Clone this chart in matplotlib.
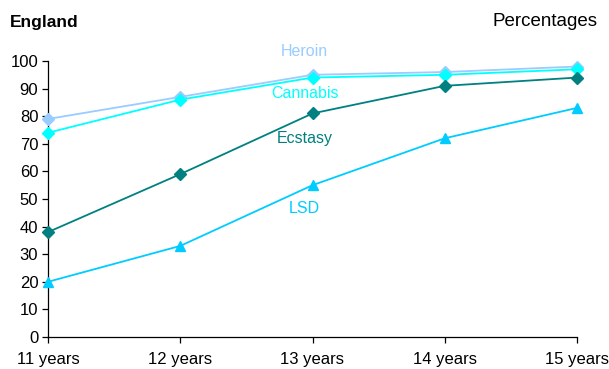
import matplotlib
matplotlib.use("Agg")
import matplotlib.pyplot as plt

plt.rcParams['font.family'] = ['Liberation Sans', 'DejaVu Sans']

ages = ["11 years", "12 years", "13 years", "14 years", "15 years"]
heroin = [79, 87, 95, 96, 98]
cannabis = [74, 86, 94, 95, 97]
ecstasy = [38, 59, 81, 91, 94]
lsd = [20, 33, 55, 72, 83]

series = [
    ("Heroin", heroin, "#99CCFF", "D", (1.94, 103.6)),
    ("Cannabis", cannabis, "#00FFFF", "D", (1.94, 88.4)),
    ("Ecstasy", ecstasy, "#008080", "D", (1.94, 72.1)),
    ("LSD", lsd, "#00CCFF", "^", (1.94, 46.7)),
]

fig = plt.figure(figsize=(6.09, 3.69), dpi=100)
ax = fig.add_axes([48 / 609, 32 / 369, 529 / 609, 276 / 369])

x = list(range(len(ages)))
for name, vals, color, marker, (tx, ty) in series:
    ms = 6.5 if marker == "D" else 7.5
    ax.plot(x, vals, color=color, marker=marker, markersize=ms, linewidth=1.3,
            markeredgecolor=color, clip_on=False, zorder=3)
    ax.text(tx, ty, name, color=color, fontsize=11.5, ha="center", va="center")

ax.set_xlim(0, 4)
ax.set_ylim(0, 100)
ax.set_xticks(x)
ax.set_xticklabels(ages, fontsize=12)
ax.set_yticks(range(0, 101, 10))
ax.tick_params(axis="both", labelsize=12, length=4, width=0.9, direction="out",
               color="black")
ax.tick_params(axis="x", pad=7)
ax.tick_params(axis="y", pad=3)
for side in ("top", "right"):
    ax.spines[side].set_visible(False)
for side in ("left", "bottom"):
    ax.spines[side].set_linewidth(0.9)

fig.text(10 / 609, 1 - 22 / 369, "England", fontsize=12.5, fontweight="bold",
         ha="left", va="center")
fig.text(598 / 609, 1 - 22 / 369, "Percentages", fontsize=13.5,
         ha="right", va="center")

fig.savefig("out.png", dpi=100)
